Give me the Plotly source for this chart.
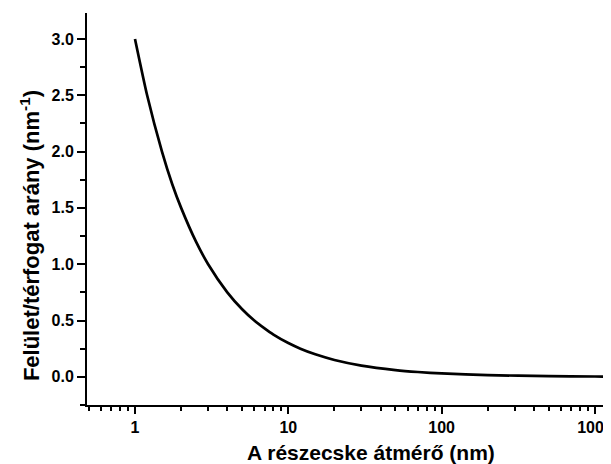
import plotly.graph_objects as go

# Particle diameter (nm) and surface/volume ratio (nm^-1)
diameter = [1, 1.2, 1.5, 1.75, 2, 2.5, 3, 4, 5, 6, 7, 8, 10, 12, 15, 20, 30, 50, 70, 100, 200, 500, 1000, 1180]
ratio = [3.0, 2.5, 2.0, 1.71, 1.5, 1.2, 1.0, 0.75, 0.6, 0.5, 0.43, 0.375, 0.3, 0.25, 0.2, 0.15, 0.1, 0.06, 0.043, 0.03, 0.015, 0.006, 0.003, 0.0025]

x_major = [1, 10, 100, 1000]
x_major_labels = ["1", "10", "100", "1000"]
x_minor = [0.5, 0.6, 0.7, 0.8, 0.9,
           2, 3, 4, 5, 6, 7, 8, 9,
           20, 30, 40, 50, 60, 70, 80, 90,
           200, 300, 400, 500, 600, 700, 800, 900, 2000]
y_major = [0.0, 0.5, 1.0, 1.5, 2.0, 2.5, 3.0]
y_major_labels = ["0.0", "0.5", "1.0", "1.5", "2.0", "2.5", "3.0"]

x_title = "A részecske átmérő (nm)"
y_title = "Felület/térfogat arány (nm<sup>-1</sup>)"

fig = go.Figure()
fig.add_trace(go.Scatter(x=diameter, y=ratio, mode="lines",
                         line=dict(color="black", width=2.7, shape="spline", smoothing=0.6),
                         showlegend=False, hoverinfo="skip"))

font_family = "Liberation Sans, Arial, sans-serif"

# The page body has an 8px margin; the figure is offset by it and clipped at the right
fig.update_layout(
    width=611, height=464,
    margin=dict(l=79, r=0, t=5, b=67, autoexpand=False),
    paper_bgcolor="white", plot_bgcolor="white",
    font=dict(family=font_family, color="black"),
)

fig.update_xaxes(
    type="log",
    range=[-0.313, 3.157],
    automargin=False,
    showline=True, linecolor="black", linewidth=2,
    showgrid=False, zeroline=False,
    tickmode="array", tickvals=x_major, ticktext=x_major_labels,
    ticks="outside", ticklen=7, tickwidth=2, tickcolor="black",
    tickfont=dict(size=16, weight="bold", family=font_family),
    minor=dict(tickmode="array", tickvals=x_minor, ticks="outside",
               ticklen=4, tickwidth=2, tickcolor="black", showgrid=False),
)

fig.update_yaxes(
    range=[-0.25, 3.23],
    automargin=False,
    showline=True, linecolor="black", linewidth=2,
    showgrid=False, zeroline=False,
    tickmode="array", tickvals=y_major, ticktext=y_major_labels,
    ticks="outside", ticklen=8, tickwidth=2, tickcolor="black",
    tickfont=dict(size=16, weight="bold", family=font_family),
    minor=dict(dtick=0.25, tick0=0, ticks="outside", ticklen=5, tickwidth=2,
               tickcolor="black", showgrid=False),
)

fig.add_annotation(text=x_title, xref="paper", yref="paper",
                   x=0.534, y=-0.12, xanchor="center", yanchor="middle",
                   showarrow=False,
                   font=dict(size=21, weight="bold", family=font_family, color="black"))
fig.add_annotation(text=y_title, xref="paper", yref="paper",
                   x=-0.107, y=0.431, xanchor="center", yanchor="middle",
                   textangle=-90, showarrow=False,
                   font=dict(size=22, weight="bold", family=font_family, color="black"))

fig.write_html("out.html")
